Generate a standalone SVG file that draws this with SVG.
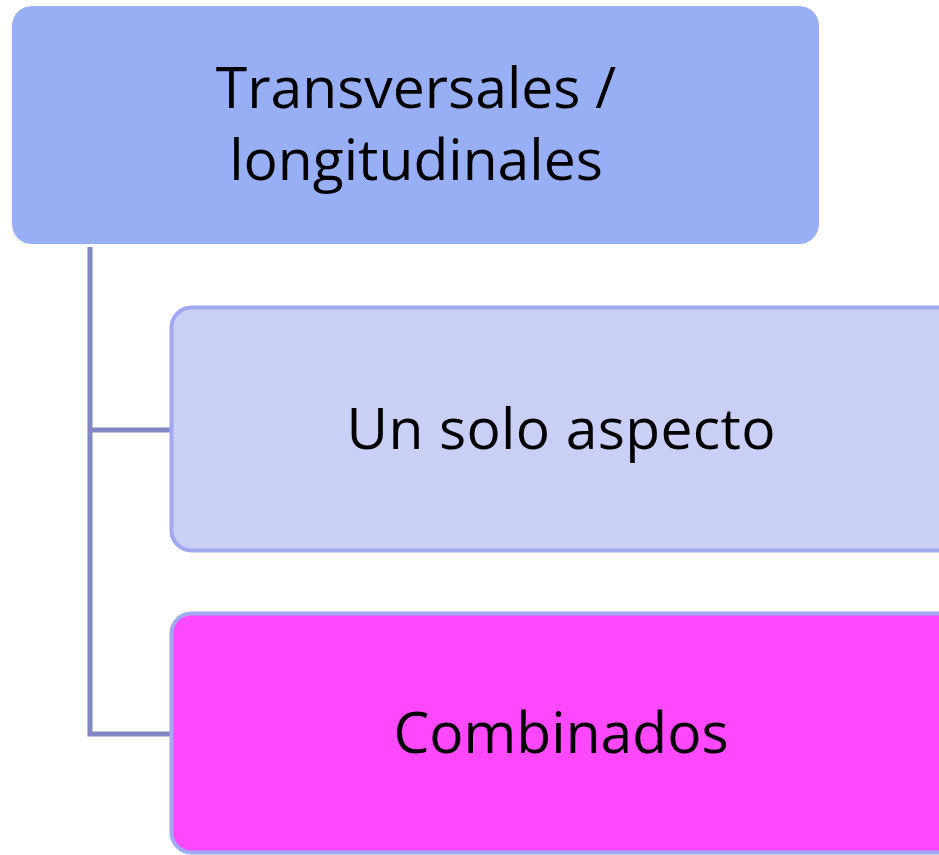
<svg xmlns="http://www.w3.org/2000/svg" width="939" height="855" viewBox="0 0 939 855">
<style>
.t{font-family:"Open Sans","Noto Sans",sans-serif;font-size:57px;fill:#000;text-anchor:middle}
.conn{fill:none;stroke:#7F88C4;stroke-width:5}
</style>
<rect width="939" height="855" fill="#fff"/>
<g id="connectors">
<path class="conn" d="M90 247 V734 H172"/>
<path class="conn" d="M90 430 H172"/>
</g>
<g id="top">
<rect x="12" y="6" width="807" height="238" rx="20" fill="#99AFF5"/>
<text class="t" x="416" y="108">Transversales /</text>
<text class="t" x="416" y="180">longitudinales</text>
</g>
<g id="solo">
<rect x="171.5" y="307.5" width="790" height="243" rx="20" fill="#CACFF6" stroke="#A0A8F0" stroke-width="4"/>
<text class="t" x="561" y="449" textLength="429" lengthAdjust="spacing">Un solo aspecto</text>
</g>
<g id="combinados">
<rect x="171.5" y="613.5" width="790" height="239" rx="20" fill="#FF48FF" stroke="#A0A8F0" stroke-width="4"/>
<text class="t" x="561" y="753">Combinados</text>
</g>
</svg>
